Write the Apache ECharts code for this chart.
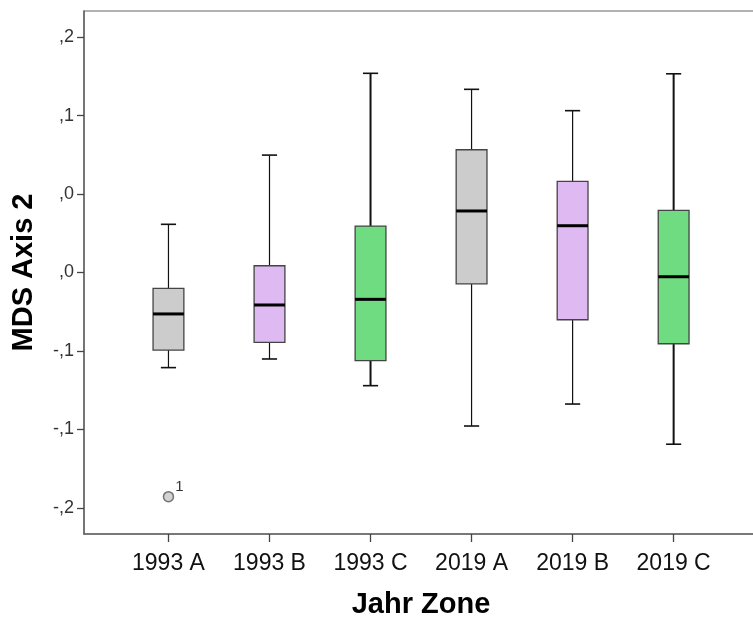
<!DOCTYPE html>
<html>
<head>
<meta charset="utf-8">
<script src="https://cdn.jsdelivr.net/npm/echarts@6/dist/echarts.min.js"></script>
<style>html,body{margin:0;padding:0;background:#fff}#c{width:753px;height:618px}</style>
</head>
<body>
<div id="c"></div>
<script>
// ---- data ----
const categories = ['1993 A', '1993 B', '1993 C', '2019 A', '2019 B', '2019 C'];
// [low whisker, Q1, median, Q3, high whisker]
const lowWhisker  = [-0.0606, -0.0551, -0.0721, -0.0978, -0.0838, -0.1094];
const q1Values    = [-0.0494, -0.0445, -0.0562, -0.0073, -0.0301, -0.0454];
const medians     = [-0.0264, -0.0207, -0.0171,  0.0392,  0.0298, -0.0027];
const q3Values    = [-0.0101,  0.0043,  0.0296,  0.0782,  0.0581,  0.0396];
const highWhisker = [ 0.0307,  0.0748,  0.1269,  0.1167,  0.1031,  0.1266];
const outlierCats   = [0];
const outlierValues = [-0.1428];
const outlierLabels = ['1'];
const yTickValues = [0.15, 0.10, 0.05, 0.00, -0.05, -0.10, -0.15];
const yTickLabels = [',2', ',1', ',0', ',0', '-,1', '-,1', '-,2'];
const xTitle = 'Jahr Zone';
const yTitle = 'MDS Axis 2';

// ---- styles ----
const boxColors = ['#cccccc', '#dfb9f1', '#70dc82', '#cccccc', '#dfb9f1', '#70dc82'];
const whiskerWidths = [1.2, 1.2, 2, 1.2, 1.2, 2];
const FONT = "'Liberation Sans', Arial, sans-serif";

const boxData = categories.map((c, i) => [i, lowWhisker[i], q1Values[i], medians[i], q3Values[i], highWhisker[i]]);
const outlierData = outlierCats.map((c, k) => ({ value: [c, outlierValues[k]], name: outlierLabels[k] }));

const chart = echarts.init(document.getElementById('c'), null, { renderer: 'canvas' });

function renderBox(params, api) {
  const i = api.value(0);
  const lo = api.coord([i, api.value(1)]);
  const q1 = api.coord([i, api.value(2)]);
  const md = api.coord([i, api.value(3)]);
  const q3 = api.coord([i, api.value(4)]);
  const hi = api.coord([i, api.value(5)]);
  const boxW = api.size([0.305, 0])[0];
  const capW = api.size([0.15, 0])[0];
  const x = lo[0];
  const ww = whiskerWidths[params.dataIndex];
  const lineStyle = { stroke: '#111', lineWidth: ww, fill: null };
  return {
    type: 'group',
    children: [
      { type: 'line', shape: { x1: x, y1: hi[1], x2: x, y2: q3[1] }, style: lineStyle },
      { type: 'line', shape: { x1: x, y1: q1[1], x2: x, y2: lo[1] }, style: lineStyle },
      { type: 'line', shape: { x1: x - capW / 2, y1: hi[1], x2: x + capW / 2, y2: hi[1] }, style: { stroke: '#111', lineWidth: 1.6 } },
      { type: 'line', shape: { x1: x - capW / 2, y1: lo[1], x2: x + capW / 2, y2: lo[1] }, style: { stroke: '#111', lineWidth: 1.6 } },
      { type: 'rect', shape: { x: x - boxW / 2, y: q3[1], width: boxW, height: q1[1] - q3[1] },
        style: { fill: boxColors[params.dataIndex], stroke: '#444', lineWidth: 1.3 } },
      { type: 'line', shape: { x1: x - boxW / 2, y1: md[1], x2: x + boxW / 2, y2: md[1] }, style: { stroke: '#000', lineWidth: 3 } }
    ]
  };
}

const option = {
  animation: false,
  backgroundColor: '#fff',
  grid: {
    left: 84, top: 11, right: -5, bottom: 84,
    containLabel: false, outerBoundsMode: 'none',
    show: true, borderColor: '#666', borderWidth: 1.2, backgroundColor: '#fff'
  },
  xAxis: {
    type: 'value',
    min: -0.836, max: 5.835,
    splitLine: { show: false },
    axisLine: { show: true, onZero: false, lineStyle: { color: '#666', width: 1.5 } },
    axisTick: { show: true, length: 8, lineStyle: { color: '#444', width: 1.3 }, customValues: [0, 1, 2, 3, 4, 5] },
    axisLabel: {
      customValues: [0, 1, 2, 3, 4, 5],
      formatter: v => categories[Math.round(v)] || '',
      fontFamily: FONT, fontSize: 23, color: '#111', margin: 18
    },
    name: xTitle, nameLocation: 'middle', nameGap: 56,
    nameTextStyle: { fontFamily: FONT, fontSize: 29, fontWeight: 'bold', color: '#000' }
  },
  yAxis: {
    type: 'value',
    min: -0.1666, max: 0.1666,
    splitLine: { show: false },
    axisLine: { show: true, onZero: false, lineStyle: { color: '#666', width: 1.5 } },
    axisTick: { show: true, length: 7, lineStyle: { color: '#444', width: 1.3 }, customValues: yTickValues },
    axisLabel: {
      customValues: yTickValues,
      formatter: v => { const k = yTickValues.findIndex(t => Math.abs(t - v) < 1e-6); return k >= 0 ? yTickLabels[k] : ''; },
      fontFamily: FONT, fontSize: 18, color: '#333', margin: 10
    },
    name: yTitle, nameLocation: 'middle', nameGap: 46, nameRotate: 90,
    nameTextStyle: { fontFamily: FONT, fontSize: 29, fontWeight: 'bold', color: '#000' }
  },
  series: [
    {
      type: 'custom',
      renderItem: renderBox,
      encode: { x: 0, y: [1, 2, 3, 4, 5] },
      data: boxData,
      clip: false
    },
    {
      type: 'scatter',
      symbol: 'circle',
      symbolSize: 10,
      itemStyle: { color: '#c8c8c8', borderColor: '#555', borderWidth: 1.5 },
      label: {
        show: true, position: 'right', distance: 1, offset: [0, -10],
        formatter: p => p.name,
        fontFamily: FONT, fontSize: 15, color: '#000'
      },
      data: outlierData
    }
  ]
};
chart.setOption(option);
</script>
</body>
</html>
